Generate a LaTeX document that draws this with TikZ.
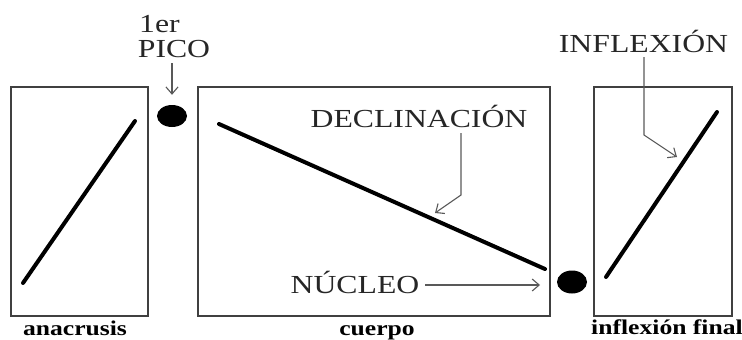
\documentclass[tikz,border=0pt]{standalone}
\usepackage{fontspec}
\setmainfont{Liberation Serif}
\newfontfamily\lblfont[FakeStretch=1.22]{Liberation Serif}
\usetikzlibrary{arrows.meta,shapes.geometric}
\begin{document}
\begin{tikzpicture}[x=1pt,y=-1pt,
  frame/.style={draw=black!75, line width=1.4pt, inner sep=0pt, minimum height=229pt},
  curve/.style={line width=4pt, line cap=round},
  dot/.style={ellipse, fill=black, inner sep=0pt, minimum width=30pt, minimum height=22pt},
  lbl/.style={inner sep=0pt, font=\lblfont\fontsize{26}{30}\selectfont, text=black!85},
  boxcaption/.style={inner sep=0pt, font=\lblfont\bfseries\fontsize{21}{24}\selectfont},
  arr/.style={draw=black!65, line width=1.1pt, -{Straight Barb[length=7pt,width=12pt]}}]
\useasboundingbox (0,0) rectangle (742,340);
% boxes
\node[frame, minimum width=137pt] (b1) at (79.5,201.5) {};
\node[frame, minimum width=352pt] (b2) at (374,201.5) {};
\node[frame, minimum width=138pt] (b3) at (663,201.5) {};
% contour lines
\coordinate (a1) at (23,283); \coordinate (a2) at (135,121);
\coordinate (c1) at (219,124); \coordinate (c2) at (545,269);
\coordinate (d1) at (606,277); \coordinate (d2) at (717,112);
\draw[curve] (a1) -- (a2);
\draw[curve] (c1) -- (c2);
\draw[curve] (d1) -- (d2);
% dots
\node[dot] (dot1) at (172,116) {};
\node[dot, minimum height=23pt] (dot2) at (572,282) {};
% labels
\node[lbl, anchor=base west] (one) at (139,32) {1er};
\node[lbl, anchor=base] (pico) at (174,57) {PICO};
\node[lbl, anchor=base] (decl) at (419,127) {DECLINACIÓN};
\node[lbl, anchor=base] (nuc) at (355,293) {NÚCLEO};
\node[lbl, anchor=base] (infl) at (643.5,52) {INFLEXIÓN};
\node[boxcaption, anchor=base] (ana) at (75,335) {anacrusis};
\node[boxcaption, anchor=base] (cue) at (377,335) {cuerpo};
\node[boxcaption, anchor=base] (fin) at (667,334) {inflexión final};
% arrows
\coordinate (pk) at (172,63);
\draw[arr, shorten >=10pt] (pk) -- (dot1.north);
\coordinate (dk1) at (461,133); \coordinate (dk2) at (461,195); \coordinate (dk3) at (435,213);
\draw[arr] (dk1) -- (dk2) -- (dk3);
\coordinate (nk1) at (425,285); \coordinate (nk2) at (540,285);
\draw[arr] (nk1) -- (nk2);
\coordinate (ik1) at (644,57); \coordinate (ik2) at (644,135); \coordinate (ik3) at (677,157);
\draw[arr] (ik1) -- (ik2) -- (ik3);
\end{tikzpicture}
\end{document}
